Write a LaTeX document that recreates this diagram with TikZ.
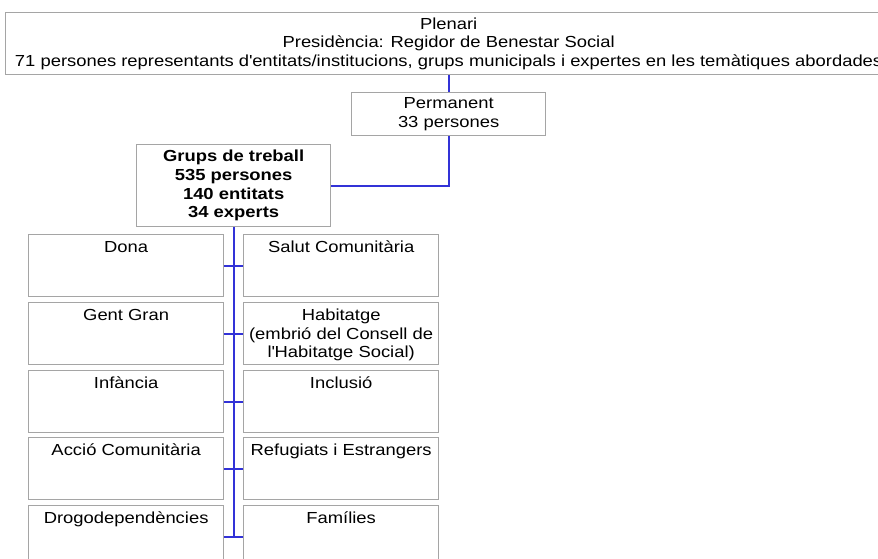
\documentclass[tikz,border=0pt]{standalone}
\usepackage{fontspec}
\setmainfont{Liberation Sans}[FakeStretch=1.15]
\usepackage{tikz}
\usepackage{xcolor}
\usetikzlibrary{positioning, calc}

\definecolor{boxgray}{RGB}{165,165,165}
\definecolor{linkblue}{RGB}{50,50,215}

\begin{document}
\begin{tikzpicture}[x=1pt, y=-1pt,
  caixa/.style={draw=boxgray, line width=1.3pt, fill=white, anchor=north west,
    align=center, inner sep=0pt, font=\fontsize{16pt}{18.5pt}\selectfont},
  grup/.style={caixa, minimum width=195pt, minimum height=62pt},
  tx/.style={anchor=north, align=center, inner sep=0pt,
    font=\fontsize{16pt}{18.5pt}\selectfont},
  enllac/.style={draw=linkblue, line width=1.7pt}]
\useasboundingbox (0,0) rectangle (878,559);
\clip (0,0) rectangle (878,559);
% Plenari and Permanent
\node[caixa, minimum width=886pt, minimum height=62pt] (plenari) at (5,12)
  {Plenari\\Presidència: Regidor de Benestar Social\\71 persones representants d\textquotesingle entitats/institucions, grups municipals i expertes en les temàtiques abordades};
\node[caixa, minimum width=194pt, minimum height=43pt] (permanent) at (351,92)
  {Permanent\\33 persones};
\node[caixa, minimum width=194pt, minimum height=82pt, font=\fontsize{16pt}{18.7pt}\selectfont\bfseries] (grups) at (136,144)
  {Grups de treball\\535 persones\\140 entitats\\34 experts};
% Working groups
\node[grup] (dona) at (28,234) {};
\node[grup] (salut) at (243,234) {};
\node[grup] (gentgran) at (28,302) {};
\node[grup] (habitatge) at (243,302) {};
\node[grup] (infancia) at (28,370) {};
\node[grup] (inclusio) at (243,370) {};
\node[grup] (accio) at (28,437) {};
\node[grup] (refugiats) at (243,437) {};
\node[grup] (drogo) at (28,505) {};
\node[grup] (families) at (243,505) {};
\node[tx, below=7pt of dona.north] (dona-t) {Dona};
\node[tx, below=7pt of salut.north] (salut-t) {Salut Comunitària};
\node[tx, below=7pt of gentgran.north] (gentgran-t) {Gent Gran};
\node[tx, below=7pt of habitatge.north] (habitatge-t) {Habitatge\\(embrió del Consell de\\l\textquotesingle Habitatge Social)};
\node[tx, below=7pt of infancia.north] (infancia-t) {Infància};
\node[tx, below=7pt of inclusio.north] (inclusio-t) {Inclusió};
\node[tx, below=7pt of accio.north] (accio-t) {Acció Comunitària};
\node[tx, below=7pt of refugiats.north] (refugiats-t) {Refugiats i Estrangers};
\node[tx, below=7pt of drogo.north] (drogo-t) {Drogodependències};
\node[tx, below=7pt of families.north] (families-t) {Famílies};
% Connectors
\draw[enllac] (plenari.south) -- (permanent.north);
\draw[enllac] (permanent.south) |- (grups.east);
\draw[enllac] (grups.south) -- (grups.south |- drogo.east);
\draw[enllac] (dona.east) -- (salut.west);
\draw[enllac] (gentgran.east) -- (habitatge.west);
\draw[enllac] (infancia.east) -- (inclusio.west);
\draw[enllac] (accio.east) -- (refugiats.west);
\draw[enllac] (drogo.east) -- (families.west);
\end{tikzpicture}
\end{document}
